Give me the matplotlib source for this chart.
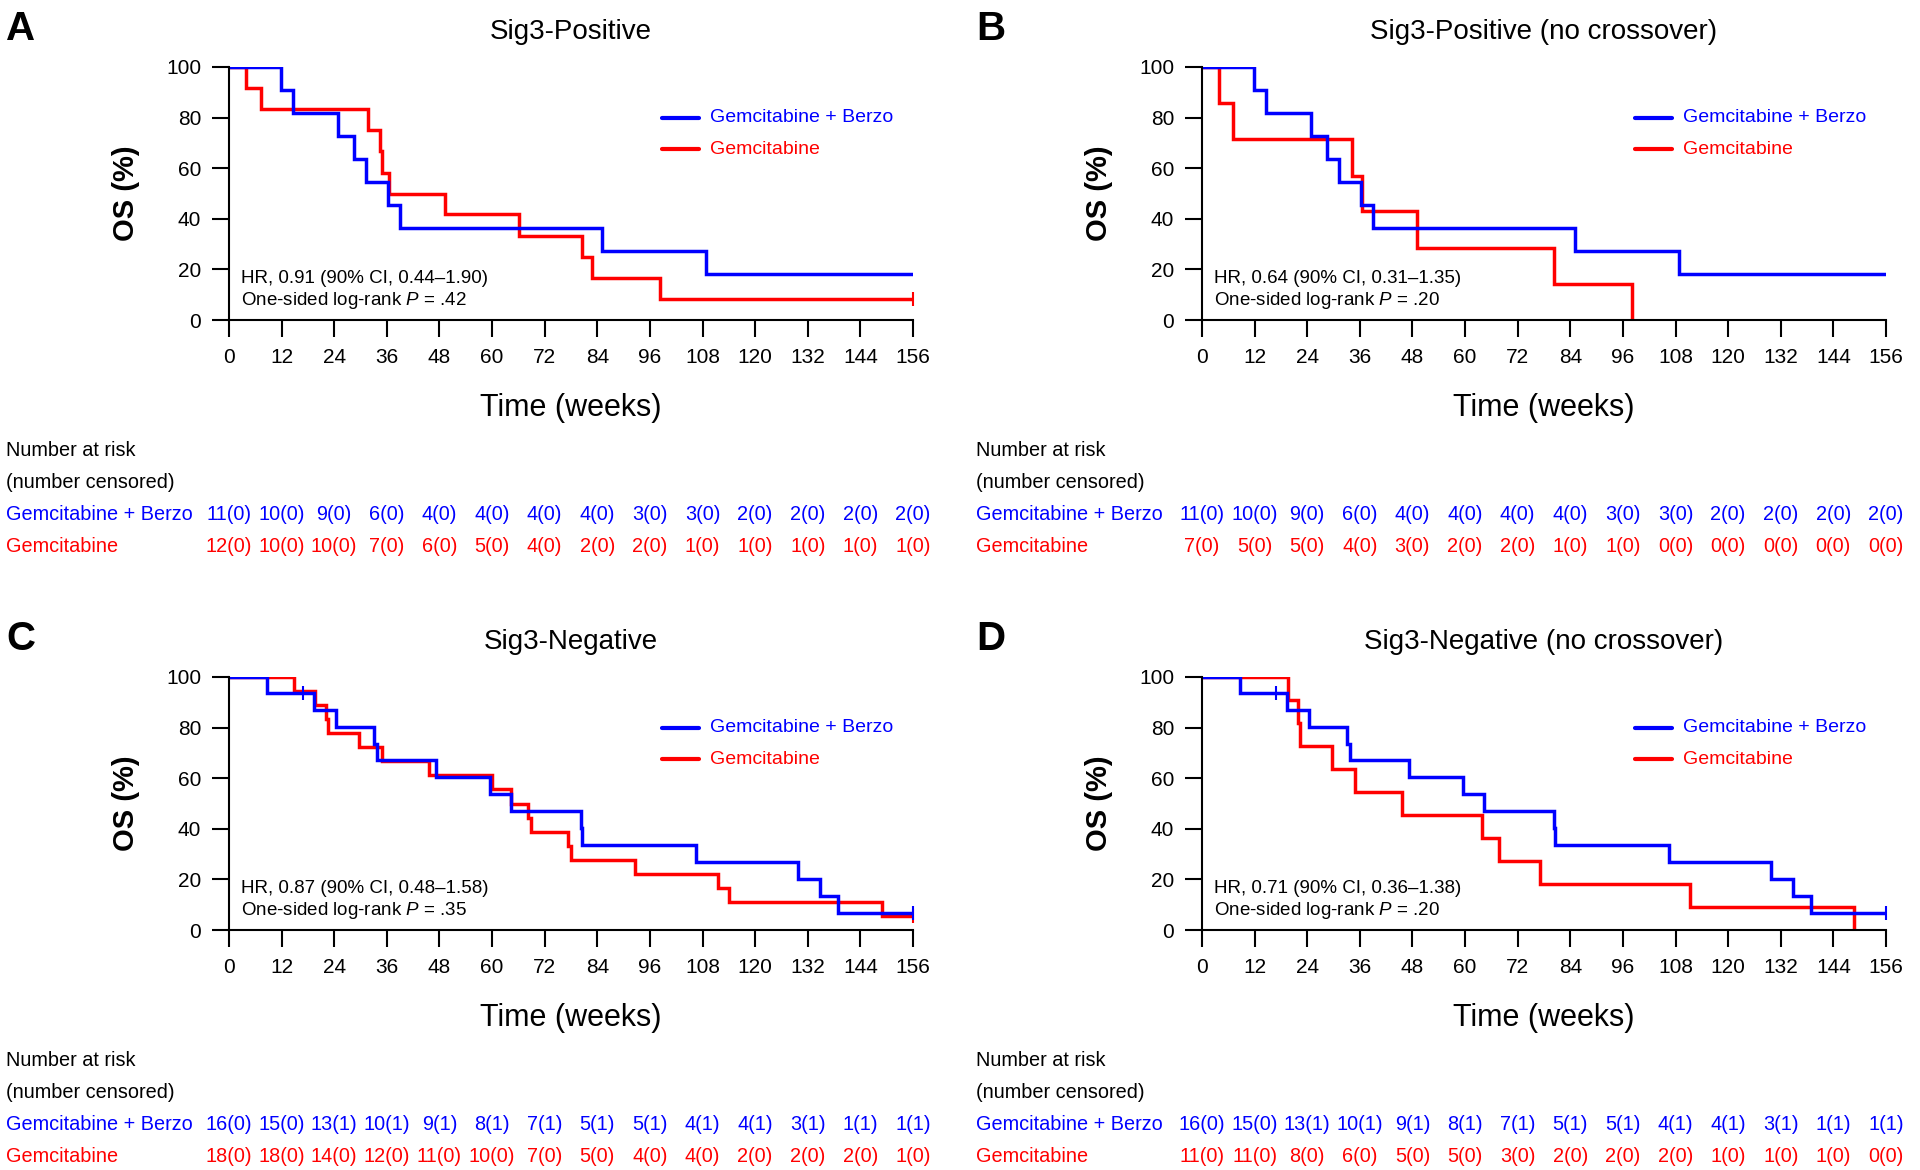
import matplotlib
matplotlib.use("Agg")
import matplotlib.pyplot as plt
from matplotlib import font_manager
from matplotlib.transforms import blended_transform_factory

names = {f.name for f in font_manager.fontManager.ttflist}
BASE = 'Liberation Sans' if 'Liberation Sans' in names else 'DejaVu Sans'
plt.rcParams['font.family'] = [BASE, 'DejaVu Sans']
plt.rcParams['mathtext.fontset'] = 'custom'
plt.rcParams['mathtext.it'] = BASE + ':italic'
plt.rcParams['mathtext.rm'] = BASE

BLUE = '#0000FF'
RED = '#FF0000'

# ---------------- data ----------------
weeks = [0, 12, 24, 36, 48, 60, 72, 84, 96, 108, 120, 132, 144, 156]
yticks = [0, 20, 40, 60, 80, 100]
label_combo = 'Gemcitabine + Berzo'
label_gem = 'Gemcitabine'

titles = ['Sig3-Positive', 'Sig3-Positive (no crossover)',
          'Sig3-Negative', 'Sig3-Negative (no crossover)']
letters = ['A', 'B', 'C', 'D']
hr_texts = ['HR, 0.91 (90% CI, 0.44\u20131.90)', 'HR, 0.64 (90% CI, 0.31\u20131.35)',
            'HR, 0.87 (90% CI, 0.48\u20131.58)', 'HR, 0.71 (90% CI, 0.36\u20131.38)']
p_values = ['.42', '.20', '.35', '.20']

# Kaplan-Meier step curves (time in weeks, OS %)
pos_combo_t = [0, 11.9, 14.6, 24.9, 28.5, 31.2, 36.2, 39.0, 85.0, 108.8, 156]
pos_combo_s = [100, 90.9, 81.8, 72.7, 63.6, 54.5, 45.5, 36.4, 27.3, 18.2, 18.2]
pos_gem_t = [0, 3.9, 7.2, 31.7, 34.4, 34.8, 36.4, 49.2, 66.2, 80.5, 82.8, 98.3, 156]
pos_gem_s = [100, 91.7, 83.3, 75.0, 66.7, 58.3, 50.0, 41.7, 33.3, 25.0, 16.7, 8.3, 8.3]
pos_nc_gem_t = [0, 3.9, 7.1, 34.3, 36.5, 49.0, 80.2, 98.0]
pos_nc_gem_s = [100, 85.7, 71.4, 57.1, 42.9, 28.6, 14.3, 0]
neg_combo_t = [0, 8.6, 19.4, 24.3, 33.1, 33.8, 47.1, 59.5, 64.3, 80.3, 80.6,
               106.4, 129.8, 134.8, 139.0, 156]
neg_combo_s = [100, 93.8, 87.1, 80.4, 73.7, 67.0, 60.3, 53.6, 46.9, 40.2, 33.5,
               26.8, 20.1, 13.4, 6.7, 6.7]
neg_gem_t = [0, 14.9, 19.6, 22.2, 22.6, 29.7, 35.0, 45.6, 59.9, 64.3, 68.1, 68.9,
             77.3, 77.9, 92.6, 111.6, 114.1, 149.0, 156]
neg_gem_s = [100, 94.4, 88.9, 83.3, 77.8, 72.2, 66.7, 61.1, 55.6, 50.0, 44.4, 38.9,
             33.3, 27.8, 22.2, 16.7, 11.1, 5.6, 5.6]
neg_nc_gem_t = [0, 19.7, 22.0, 22.3, 29.7, 34.8, 45.5, 63.8, 67.8, 77.0, 111.3, 148.8]
neg_nc_gem_s = [100, 90.9, 81.8, 72.7, 63.6, 54.5, 45.5, 36.4, 27.3, 18.2, 9.1, 0]

# censor marks (time, OS %)
pos_combo_cens = []
pos_gem_cens = [(156, 8.3)]
pos_nc_gem_cens = []
neg_combo_cens = [(16.9, 93.8), (156, 6.7)]
neg_gem_cens = [(156, 5.6)]
neg_nc_gem_cens = []

# number at risk / censored
pos_combo_risk = [11, 10, 9, 6, 4, 4, 4, 4, 3, 3, 2, 2, 2, 2]
pos_combo_cn = [0] * 14
pos_gem_risk = [12, 10, 10, 7, 6, 5, 4, 2, 2, 1, 1, 1, 1, 1]
pos_gem_cn = [0] * 14
pos_nc_gem_risk = [7, 5, 5, 4, 3, 2, 2, 1, 1, 0, 0, 0, 0, 0]
pos_nc_gem_cn = [0] * 14
neg_combo_risk = [16, 15, 13, 10, 9, 8, 7, 5, 5, 4, 4, 3, 1, 1]
neg_combo_cn = [0, 0, 1, 1, 1, 1, 1, 1, 1, 1, 1, 1, 1, 1]
neg_gem_risk = [18, 18, 14, 12, 11, 10, 7, 5, 4, 4, 2, 2, 2, 1]
neg_gem_cn = [0] * 14
neg_nc_gem_risk = [11, 11, 8, 6, 5, 5, 3, 2, 2, 2, 1, 1, 1, 0]
neg_nc_gem_cn = [0] * 14

panels = [
    dict(combo=(pos_combo_t, pos_combo_s, pos_combo_cens), gem=(pos_gem_t, pos_gem_s, pos_gem_cens),
         risk=((pos_combo_risk, pos_combo_cn), (pos_gem_risk, pos_gem_cn))),
    dict(combo=(pos_combo_t, pos_combo_s, pos_combo_cens), gem=(pos_nc_gem_t, pos_nc_gem_s, pos_nc_gem_cens),
         risk=((pos_combo_risk, pos_combo_cn), (pos_nc_gem_risk, pos_nc_gem_cn))),
    dict(combo=(neg_combo_t, neg_combo_s, neg_combo_cens), gem=(neg_gem_t, neg_gem_s, neg_gem_cens),
         risk=((neg_combo_risk, neg_combo_cn), (neg_gem_risk, neg_gem_cn))),
    dict(combo=(neg_combo_t, neg_combo_s, neg_combo_cens), gem=(neg_nc_gem_t, neg_nc_gem_s, neg_nc_gem_cens),
         risk=((neg_combo_risk, neg_combo_cn), (neg_nc_gem_risk, neg_nc_gem_cn))),
]

# ---------------- layout ----------------
W, H = 1920, 1170
fig = plt.figure(figsize=(W / 100, H / 100), dpi=100)

ax_lefts = [229, 1202, 229, 1202]
ax_tops = [67, 67, 677, 677]
ax_w, ax_h = 684, 253
table_x = [6, 976, 6, 976]
letter_x = [6, 976, 6, 976]

for i, p in enumerate(panels):
    L, T = ax_lefts[i], ax_tops[i]
    ax = fig.add_axes([L / W, 1 - (T + ax_h) / H, ax_w / W, ax_h / H])
    for key, col in (('gem', RED), ('combo', BLUE)):
        t, s, cens = p[key]
        ax.step(t, s, where='post', color=col, lw=2.5, solid_joinstyle='miter')
        if cens:
            ax.plot([c[0] for c in cens], [c[1] for c in cens], ls='none', marker='|',
                    color=col, ms=10, mew=1.5, clip_on=False)
    ax.set_xlim(0, 156)
    ax.set_ylim(0, 100)
    ax.set_xticks(weeks)
    ax.set_yticks(yticks)
    for sp in ('top', 'right'):
        ax.spines[sp].set_visible(False)
    for sp in ('left', 'bottom'):
        ax.spines[sp].set_linewidth(1.5)
    ax.tick_params(direction='out', length=12, width=1.5, labelsize=15, pad=8)

    ax.text(0.5, 1.137, titles[i], transform=ax.transAxes, ha='center', va='center', fontsize=20)
    ax.text(0.5, -0.348, 'Time (weeks)', transform=ax.transAxes, ha='center', va='center',
            fontsize=22)
    ax.text(-0.151, 0.5, 'OS (%)', transform=ax.transAxes, ha='center', va='center',
            fontsize=21, fontweight='bold', rotation=90)

    # legend
    for yy, col, lab in ((0.800, BLUE, label_combo), (0.674, RED, label_gem)):
        ax.plot([0.633, 0.687], [yy, yy], transform=ax.transAxes, color=col, lw=3.0,
                solid_capstyle='round', clip_on=False)
        ax.text(0.703, yy, lab, transform=ax.transAxes, color=col, fontsize=14,
                ha='left', va='center')

    ax.text(0.018, 0.166, hr_texts[i], transform=ax.transAxes, fontsize=13.5,
            ha='left', va='center')
    ax.text(0.018, 0.079, 'One-sided log-rank $P$ = ' + p_values[i], transform=ax.transAxes,
            fontsize=13.5, ha='left', va='center')

    # panel letter
    fig.text(letter_x[i] / W, 1 - (T - 57) / H, letters[i], fontsize=29, fontweight='bold',
             ha='left', va='top')

    # risk table
    base = T + ax_h
    rows_y = [base + 131, base + 163, base + 195, base + 227]
    fig.text(table_x[i] / W, 1 - rows_y[0] / H, 'Number at risk', fontsize=14.3, va='center')
    fig.text(table_x[i] / W, 1 - rows_y[1] / H, '(number censored)', fontsize=14.3, va='center')
    tr = blended_transform_factory(ax.transData, fig.transFigure)
    for (risk, cn), lab, col, yy in ((p['risk'][0], label_combo, BLUE, rows_y[2]),
                                     (p['risk'][1], label_gem, RED, rows_y[3])):
        fig.text(table_x[i] / W, 1 - yy / H, lab, fontsize=14.3, va='center', color=col)
        for wk, r, c in zip(weeks, risk, cn):
            ax.text(wk, 1 - yy / H, f'{r}({c})', transform=tr, fontsize=14.3, color=col,
                    ha='center', va='center', clip_on=False)

fig.savefig('out.png', dpi=100)
